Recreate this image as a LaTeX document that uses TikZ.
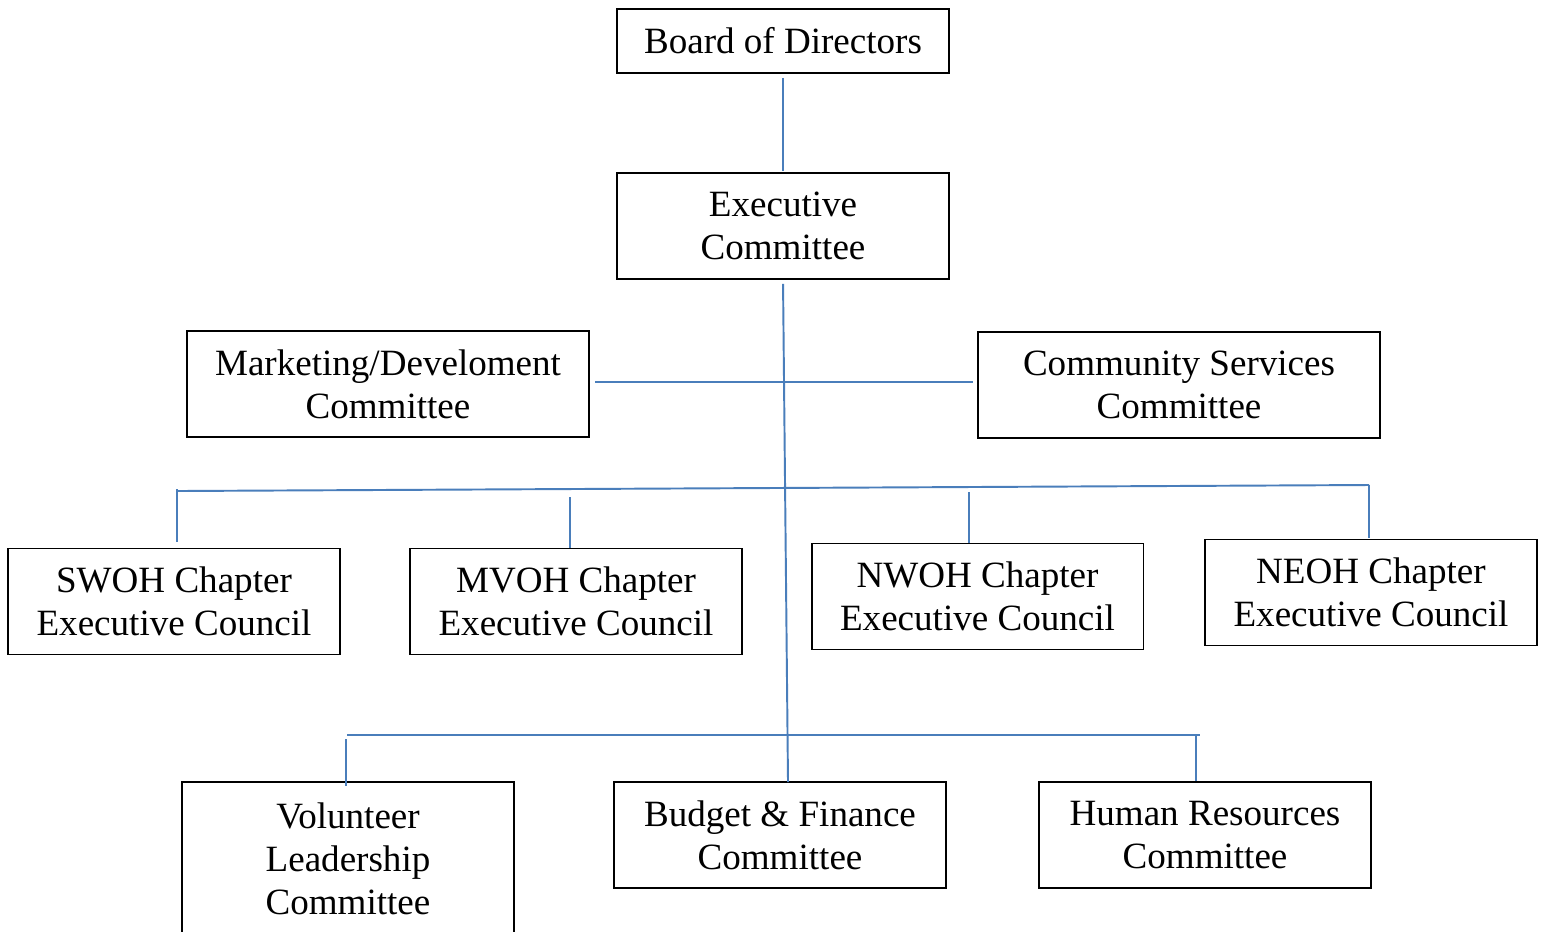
\documentclass[tikz,border=0pt]{standalone}
\usepackage{fontspec}
\setmainfont{Liberation Serif}

\definecolor{linkblue}{RGB}{74,126,187}

\begin{document}
\begin{tikzpicture}[
            x=0.02cm, y=-0.02cm,
            font=\fontsize{21.1}{24.4}\selectfont,
            box/.style={rectangle, draw, line width=1.1pt, minimum width=6.64cm, minimum height=2.12cm, align=center, inner sep=0pt},
            wide/.style={box, minimum width=8.04cm},
            link/.style={draw=linkblue, line width=1.1pt}
        ]
        \fill[white] (0,0) rectangle (1547,931);
        \useasboundingbox (0,0) rectangle (1547,931);
        % top of the chart
        \node[box, minimum height=1.28cm] (board) at (783,41) {Board of Directors};
        \node[box] (exec) at (783,226) {Executive\\Committee};
        \node[wide] (mkt) at (388,384) {Marketing/Develoment\\Committee};
        \node[wide] (csc) at (1179,385) {Community Services\\Committee};
        % chapter councils
        \node[box] (swoh) at (174,601.5) {SWOH Chapter\\Executive Council};
        \node[box] (mvoh) at (576,601.5) {MVOH Chapter\\Executive Council};
        \node[box] (nwoh) at (977.5,596.5) {NWOH Chapter\\Executive Council};
        \node[box] (neoh) at (1371,592.5) {NEOH Chapter\\Executive Council};
        % standing committees
        \node[box, minimum height=3.08cm] (vol) at (348,859) {Volunteer\\Leadership\\Committee};
        \node[box] (budget) at (780,835) {Budget \& Finance\\Committee};
        \node[box] (hr) at (1205,835) {Human Resources\\Committee};

        \coordinate (trunkend) at (788,782);
        \coordinate (sideL) at (595,382);
        \coordinate (sideR) at (973,382);
        \coordinate (chapL) at (178,491);
        \coordinate (chapR) at (1369,485);
        \coordinate (swohdrop) at (177,489);
        \coordinate (mvohdrop) at (570,497);
        \coordinate (nwohdrop) at (969,492);
        \coordinate (comL) at (347,735);
        \coordinate (comR) at (1200,735);
        \coordinate (voldrop) at (346,739);
        \coordinate (hrdrop) at (1196,735);

        \draw[link, shorten <=0.08cm, shorten >=0.02cm] (board) -- (exec);
        \draw[link, shorten <=0.08cm] (exec.south) -- (trunkend);
        \draw[link] (sideL) -- (sideR);
        \draw[link] (chapL) -- (chapR);
        \draw[link, shorten >=0.12cm] (swohdrop) -- (swohdrop |- swoh.north);
        \draw[link] (mvohdrop) -- (mvohdrop |- mvoh.north);
        \draw[link] (nwohdrop) -- (nwohdrop |- nwoh.north);
        \draw[link, shorten >=0.02cm] (chapR) -- (chapR |- neoh.north);
        \draw[link] (comL) -- (comR);
        \draw[link, shorten >=-0.1cm] (voldrop) -- (voldrop |- vol.north);
        \draw[link] (hrdrop) -- (hrdrop |- hr.north);
        \end{tikzpicture}
\end{document}
